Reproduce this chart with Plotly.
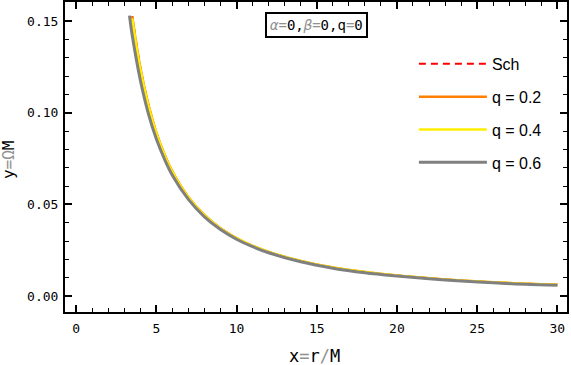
import plotly.graph_objects as go

# values
r_sch = [3.5, 4, 4.5, 5, 5.5, 6, 7, 8, 9, 10, 11, 12, 14, 16, 18, 20, 22, 24, 26, 28, 30]
om_sch = [0.1527, 0.1250, 0.1048, 0.0894, 0.0775, 0.0680, 0.0540, 0.0442, 0.0370, 0.0316,
          0.0274, 0.0241, 0.0191, 0.0156, 0.0131, 0.0112, 0.0097, 0.0085, 0.0075, 0.0067, 0.0061]
om_q02 = [0.1525, 0.1248, 0.1047, 0.0893, 0.0775, 0.0680, 0.0540, 0.0442, 0.0370, 0.0316,
          0.0274, 0.0241, 0.0191, 0.0156, 0.0131, 0.0112, 0.0097, 0.0085, 0.0075, 0.0067, 0.0061]
om_q04 = [0.1515, 0.1240, 0.1042, 0.0890, 0.0772, 0.0678, 0.0539, 0.0441, 0.0369, 0.0316,
          0.0274, 0.0241, 0.0191, 0.0156, 0.0131, 0.0112, 0.0097, 0.0085, 0.0075, 0.0067, 0.0061]
r_q06 = [3.33, 3.5, 4, 4.5, 5, 5.5, 6, 7, 8, 9, 10, 11, 12, 14, 16, 18, 20, 22, 24, 26, 28, 30]
om_q06 = [0.1530, 0.1422, 0.1180, 0.0997, 0.0858, 0.0749, 0.0659, 0.0527, 0.0432, 0.0363, 0.0310,
          0.0269, 0.0236, 0.0187, 0.0152, 0.0127, 0.0109, 0.0094, 0.0082, 0.0072, 0.0064, 0.0059]

mono = 'DejaVu Sans Mono'
gray = "<span style='color:#909090'>%s</span>"

fig = go.Figure()
fig.add_trace(go.Scatter(x=r_sch, y=om_sch, mode='lines', name='Sch', legendgroup='a',
                         line=dict(color='#ff0000', width=2, dash='7px,5px', shape='spline')))
fig.add_trace(go.Scatter(x=r_sch, y=om_q02, mode='lines', name='q = 0.2', legendgroup='b',
                         line=dict(color='#ff8000', width=2.5, shape='spline')))
fig.add_trace(go.Scatter(x=r_sch, y=om_q04, mode='lines', name='q = 0.4', legendgroup='c',
                         line=dict(color='#ffee00', width=2.5, shape='spline')))
fig.add_trace(go.Scatter(x=r_q06, y=om_q06, mode='lines', name='q = 0.6', legendgroup='d',
                         line=dict(color='#808080', width=3, shape='spline')))

axis_common = dict(showline=True, linecolor='black', linewidth=2, mirror='ticks',
                   ticks='inside', ticklen=7, tickwidth=1.5, tickcolor='black',
                   showgrid=False, zeroline=False, automargin=False,
                   tickfont=dict(family=mono, size=13, color='black'))

fig.update_layout(
    width=571, height=365,
    margin=dict(l=65, r=4, t=2, b=53),
    plot_bgcolor='white', paper_bgcolor='white',
    xaxis=dict(range=[-0.69, 30.6], dtick=5, tick0=0, ticklabelstandoff=3,
               minor=dict(dtick=1, ticks='inside', ticklen=4, tickwidth=1.2, tickcolor='black'),
               **axis_common),
    yaxis=dict(range=[-0.0087, 0.1604], dtick=0.05, tick0=0, tickformat='.2f', ticklabelstandoff=2,
               minor=dict(dtick=0.01, ticks='inside', ticklen=4, tickwidth=1.2, tickcolor='black'),
               **axis_common),
    legend=dict(x=0.695, y=0.855, xanchor='left', yanchor='top', bgcolor='rgba(0,0,0,0)',
                font=dict(family='Liberation Sans', size=16, color='black'),
                itemwidth=68, tracegroupgap=9),
    annotations=[
        dict(x=0.5, y=0.926, xref='paper', yref='paper', xanchor='center', yanchor='middle', showarrow=False,
             text=gray % '<i>α</i>=' + '0,' + gray % '<i>β</i>=' + '0,q' + gray % '=' + '0',
             font=dict(family=mono, size=14, color='black'),
             bordercolor='black', borderwidth=2, borderpad=3, bgcolor='white'),
        dict(x=0.498, y=-0.142, xref='paper', yref='paper', xanchor='center', yanchor='middle', showarrow=False,
             text='x' + gray % '=' + 'r' + gray % '/' + 'M',
             font=dict(family=mono, size=17, color='black')),
        dict(x=-0.1135, y=0.49, xref='paper', yref='paper', xanchor='center', yanchor='middle', showarrow=False,
             textangle=-90, text='y' + gray % '=Ω' + 'M',
             font=dict(family=mono, size=16, color='black')),
    ],
)

fig.write_html("out.html", config={'displayModeBar': False},
               post_script="document.body.style.margin='0';")
